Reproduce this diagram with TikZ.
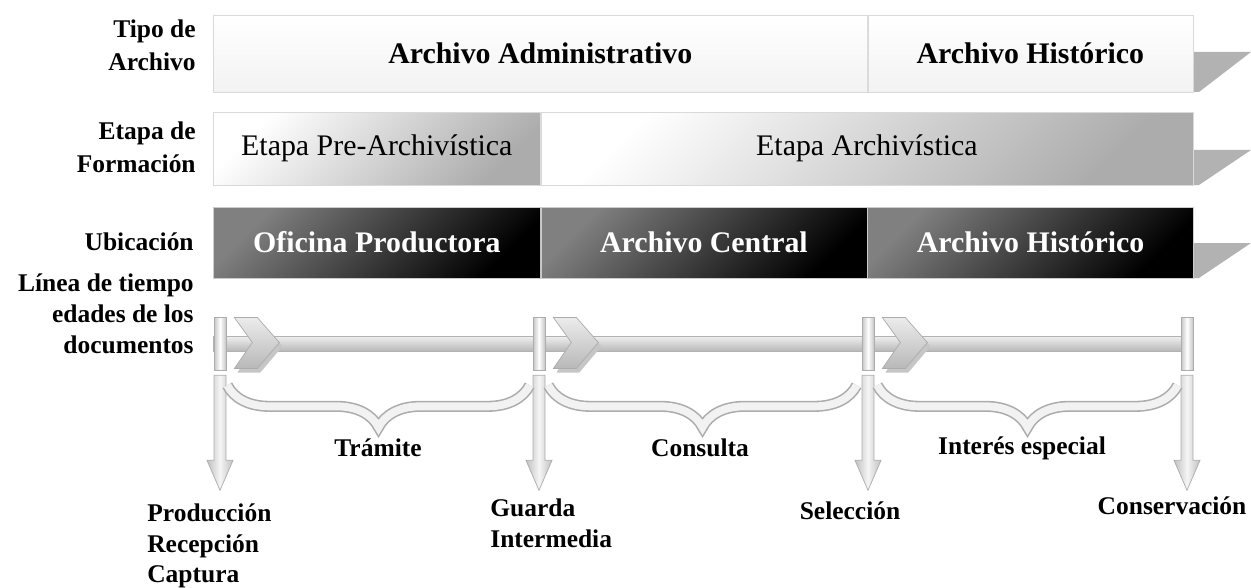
\documentclass[tikz,border=0pt]{standalone}
\usepackage{fontspec}
\setmainfont{Liberation Serif}
\usetikzlibrary{calc,positioning,decorations.pathreplacing}

\begin{document}
\begin{tikzpicture}[x=0.02cm, y=-0.02cm,
    txt/.style={font=\fontsize{14.5}{17.5}\selectfont\bfseries, inner sep=0pt},
    barratxt/.style={font=\fontsize{17}{20}\selectfont, inner sep=0pt},
    tipo/.style={barratxt, font=\fontsize{17}{20}\selectfont\bfseries, minimum height=1.54cm,
        top color=white, bottom color=gray!10, draw=gray!30},
    etapa/.style={barratxt, minimum height=1.46cm,
        top color=white, bottom color=gray!65, shading angle=45, draw=gray!30},
    ubica/.style={barratxt, font=\fontsize{17}{20}\selectfont\bfseries, text=white, minimum height=1.42cm,
        top color=black!50, bottom color=black, shading angle=45, draw=gray!40},
    marca/.style={minimum width=0.24cm, minimum height=1.06cm, inner sep=0pt,
        left color=gray!45, right color=gray!45, middle color=white, draw=gray!65},
    flecha/.style={top color=gray!15, bottom color=gray!55, draw=gray!65},
    flechaV/.style={left color=gray!50, right color=gray!50, middle color=gray!8, draw=gray!65},
    llave/.style={decorate, decoration={brace, mirror, amplitude=0.84cm},
        draw=gray!65, line width=0.9pt, double=gray!10, double distance=4.5pt}]

    \useasboundingbox (0,0) rectangle (1251,588);

    % Etiquetas de la izquierda
    \node[txt, font=\fontsize{14.5}{19}\selectfont\bfseries, align=right, anchor=east] (tipoL) at (196,45) {Tipo de\\Archivo};
    \node[txt, font=\fontsize{14.5}{19}\selectfont\bfseries, align=right, anchor=east] (etapaL) at (196,147) {Etapa de\\Formación};
    \node[txt, anchor=east] (ubicaL) at (194,242) {Ubicación};
    \node[txt, align=right, anchor=east] (lineaL) at (194,314) {Línea de tiempo\\edades de los\\documentos};

    % Sombras a la derecha de las barras
    \foreach \a/\b in {52/92, 150/185, 243/278}
        \fill[gray!60] (1190,\a) -- (1251,\a) -- (1199,\b) -- (1190,\b) -- cycle;

    % Tipo de archivo
    \node[tipo, minimum width=13.08cm, anchor=west] (admin) at (213,53.5) {Archivo Administrativo};
    \node[tipo, minimum width=6.5cm, right=0pt of admin] (histA) {Archivo Histórico};

    % Etapa de formacion
    \node[etapa, minimum width=6.54cm, anchor=west] (pre) at (213,148.5) {Etapa Pre-Archivística};
    \node[etapa, minimum width=13.04cm, right=0pt of pre] (arch) {Etapa Archivística};

    % Ubicacion
    \node[ubica, minimum width=6.54cm, anchor=west] (oficina) at (213,242.5) {Oficina Productora};
    \node[ubica, minimum width=6.52cm, right=0pt of oficina] (central) {Archivo Central};
    \node[ubica, minimum width=6.52cm, right=0pt of central] (histU) {Archivo Histórico};

    % Linea de tiempo
    \shade[top color=gray!12, bottom color=gray!55, draw=gray!60] (213,336) rectangle (1192,351);
    \foreach \n/\x in {1/220, 2/539, 3/868, 4/1187}
        \node[marca] (t\n) at (\x,343.5) {};

    % Chevrones
    \foreach \n in {1,2,3}{
        \fill[gray!45] ($(t\n.east)+(11,-22)$) -- ++(23,0) -- ++(22,25) -- ++(-22,26) -- ++(-23,0) -- ++(18,-26) -- cycle;
        \shade[flecha] ($(t\n.east)+(8,-26)$) -- ++(23,0) -- ++(22,25) -- ++(-22,26) -- ++(-23,0) -- ++(18,-26) -- cycle;
    }

    % Flechas hacia abajo
    \foreach \n in {1,...,4}
        \shade[flechaV] ($(t\n.south)+(-6,5)$) -- ++(0,85) -- ++(-7,0) -- ++(13,30) -- ++(13,-30) -- ++(-7,0) -- ++(0,-85) -- cycle;

    % Llaves
    \draw[llave] ($(t1.south east)+(1,15)$) -- ($(t2.south west)+(-3,15)$);
    \draw[llave] ($(t2.south east)+(3,15)$) -- ($(t3.south west)+(-5,15)$);
    \draw[llave] ($(t3.south east)+(3,15)$) -- ($(t4.south west)+(-3,15)$);

    \node[txt] (tramite) at (378,448) {Trámite};
    \node[txt] (consulta) at (700,448) {Consulta};
    \node[txt] (interes) at (1022,448) {Interés especial};

    % Etiquetas de abajo
    \node[txt, align=left, anchor=west] (produccion) at (147,546) {Producción\\Recepción\\Captura};
    \node[txt, align=left, anchor=west] (guarda) at (490,523) {Guarda\\Intermedia};
    \node[txt] (seleccion) at (850,511) {Selección};
    \node[txt] (conserva) at (1172,506) {Conservación};
\end{tikzpicture}
\end{document}
